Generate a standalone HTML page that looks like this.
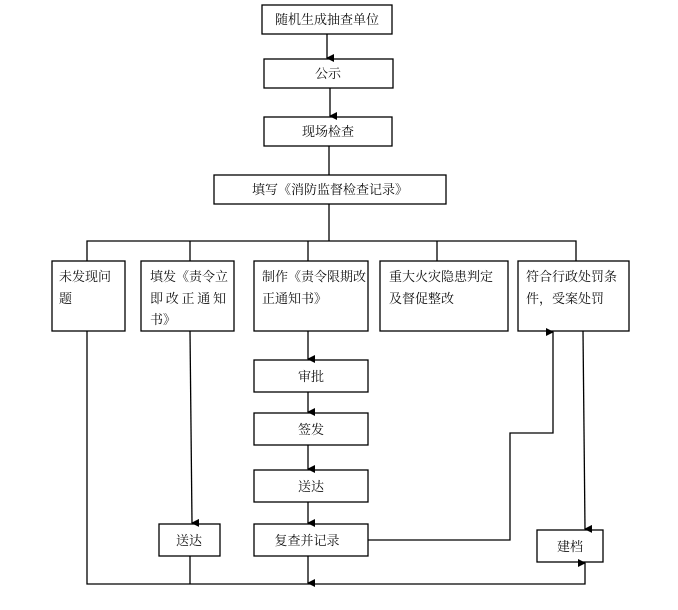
<!DOCTYPE html>
<html><head><meta charset="utf-8"><style>
body{margin:0;background:#fff}
svg{display:block}
text{font-family:"Liberation Serif","Noto Serif CJK SC","Noto Sans CJK SC",serif;font-size:13px;fill:#111}
</style></head><body>
<svg width="678" height="610" viewBox="0 0 678 610" xmlns="http://www.w3.org/2000/svg">
<defs><marker id="a" markerWidth="8" markerHeight="8" refX="4" refY="7" orient="auto-start-reverse" markerUnits="userSpaceOnUse" viewBox="0 0 8 8"><path d="M0,0 L8,0 L4,8 z" fill="#000"/></marker>
<marker id="u" markerWidth="8" markerHeight="8" refX="4" refY="1" orient="0" markerUnits="userSpaceOnUse" viewBox="0 0 8 8"><path d="M0,8 L8,8 L4,0 z" fill="#000"/></marker></defs>
<g fill="none" stroke="#000" stroke-width="1.3">
<rect x="262" y="5" width="130" height="29"/>
<rect x="264" y="59" width="129" height="29"/>
<rect x="264" y="117" width="128" height="29"/>
<rect x="214" y="175" width="232" height="29"/>
<rect x="52" y="261" width="73" height="70"/>
<rect x="141" y="261" width="93" height="70"/>
<rect x="254" y="261" width="114" height="70"/>
<rect x="380" y="261" width="128" height="70"/>
<rect x="518" y="261" width="111" height="70"/>
<rect x="254" y="360" width="114" height="32"/>
<rect x="254" y="413" width="114" height="32"/>
<rect x="254" y="470" width="114" height="32"/>
<rect x="254" y="524" width="114" height="32"/>
<rect x="159" y="524" width="61" height="32"/>
<rect x="537" y="530" width="66" height="32"/>
<line x1="327" y1="34" x2="327" y2="58" marker-end="url(#a)"/>
<line x1="330" y1="88" x2="330" y2="116" marker-end="url(#a)"/>
<line x1="329" y1="146" x2="329" y2="175"/>
<line x1="329" y1="204" x2="329" y2="241"/>
<polyline points="87,261 87,241 576,241 576,261"/>
<line x1="190" y1="241" x2="190" y2="261"/>
<line x1="308" y1="241" x2="308" y2="261"/>
<line x1="437" y1="241" x2="437" y2="261"/>
<line x1="190" y1="331" x2="192" y2="523" marker-end="url(#a)"/>
<line x1="308" y1="331" x2="308" y2="359" marker-end="url(#a)"/>
<line x1="308" y1="392" x2="308" y2="412" marker-end="url(#a)"/>
<line x1="308" y1="445" x2="308" y2="469" marker-end="url(#a)"/>
<line x1="308" y1="502" x2="308" y2="523" marker-end="url(#a)"/>
<line x1="308" y1="556" x2="308" y2="583" marker-end="url(#a)"/>
<line x1="190" y1="556" x2="190" y2="584"/>
<polyline points="87,331 87,584 585,584 585,563" marker-end="url(#a)"/>
<polyline points="368,540 510,540 510,433 553,433 553,332" marker-end="url(#a)"/>
<line x1="583" y1="331" x2="585" y2="529" marker-end="url(#a)"/>
</g>
<text x="327" y="24" text-anchor="middle">随机生成抽查单位</text>
<text x="328" y="78" text-anchor="middle">公示</text>
<text x="328" y="136" text-anchor="middle">现场检查</text>
<text x="330" y="194" text-anchor="middle">填写《消防监督检查记录》</text>
<text x="59" y="281">未发现问</text>
<text x="59" y="303">题</text>
<text x="150" y="281">填发《责令立</text>
<text x="150" y="303" textLength="76">即改正通知</text>
<text x="150" y="324">书》</text>
<text x="262" y="281">制作《责令限期改</text>
<text x="262" y="303">正通知书》</text>
<text x="389" y="281">重大火灾隐患判定</text>
<text x="389" y="303">及督促整改</text>
<text x="526" y="281">符合行政处罚条</text>
<text x="526" y="303">件，受案处罚</text>
<text x="311" y="381" text-anchor="middle">审批</text>
<text x="311" y="434" text-anchor="middle">签发</text>
<text x="311" y="491" text-anchor="middle">送达</text>
<text x="307" y="545" text-anchor="middle">复查并记录</text>
<text x="189" y="545" text-anchor="middle">送达</text>
<text x="570" y="551" text-anchor="middle">建档</text>
</svg>
</body></html>
